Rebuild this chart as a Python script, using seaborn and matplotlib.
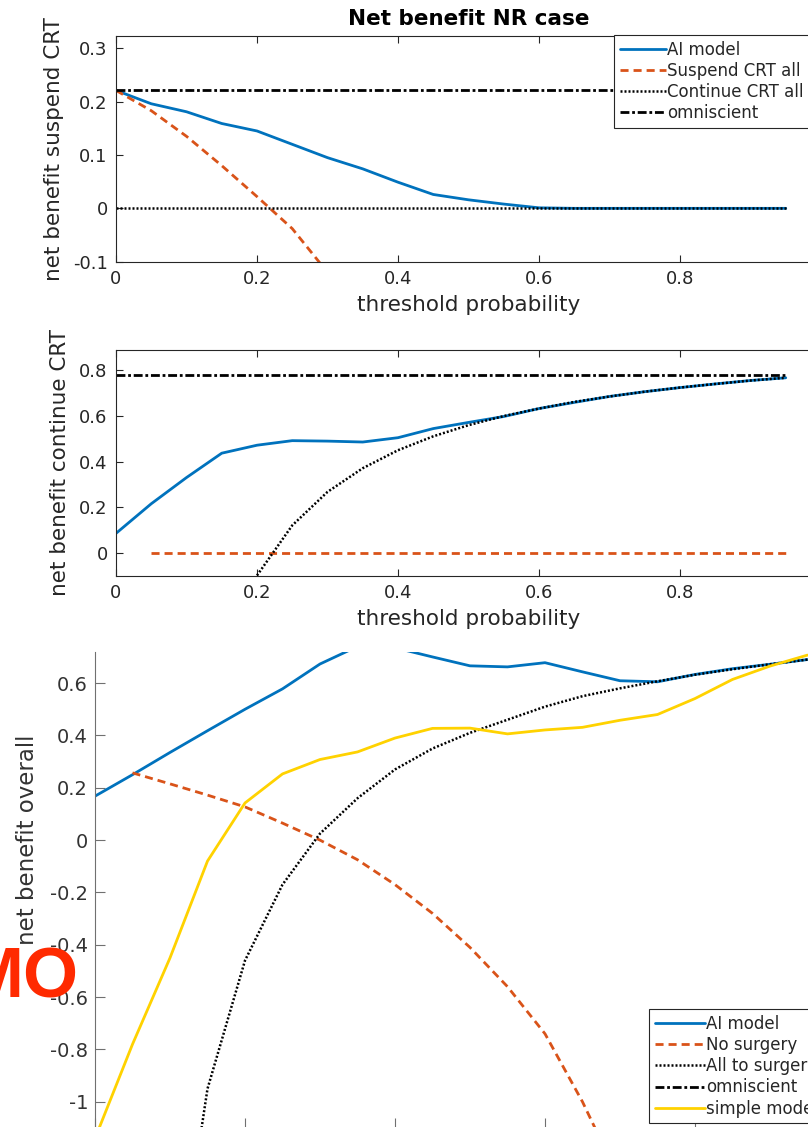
import matplotlib
matplotlib.use("Agg")
import matplotlib.pyplot as plt
import seaborn as sns
from matplotlib.ticker import FormatStrFormatter

# ---- data ----
thr = [0.0, 0.05, 0.1, 0.15, 0.2, 0.25, 0.3, 0.35, 0.4, 0.45,
       0.5, 0.55, 0.6, 0.65, 0.7, 0.75, 0.8, 0.85, 0.9, 0.95]

# panel 1: net benefit suspend CRT
suspend_ai = [0.221, 0.196, 0.181, 0.159, 0.145, 0.12, 0.095, 0.074, 0.049, 0.026,
              0.016, 0.008, 0.001, 0.0, 0.0, 0.0, 0.0, 0.0, 0.0, 0.0]
suspend_all_thr = [0.0, 0.05, 0.1, 0.15, 0.2, 0.25, 0.3, 0.35]
suspend_all = [0.221, 0.183, 0.135, 0.08, 0.022, -0.038, -0.12, -0.2]
suspend_continue = [0.0] * 20
suspend_omni = [0.221] * 20

# panel 2: net benefit continue CRT
continue_ai = [0.085, 0.215, 0.33, 0.437, 0.472, 0.492, 0.49, 0.486, 0.505, 0.545,
               0.572, 0.598, 0.633, 0.66, 0.686, 0.707, 0.725, 0.741, 0.756, 0.768]
continue_suspend_thr = thr[1:]
continue_suspend = [0.0] * 19
continue_all_thr = thr[4:]
continue_all = [-0.1, 0.12, 0.267, 0.371, 0.45, 0.511, 0.56, 0.6, 0.633, 0.662,
                0.686, 0.707, 0.725, 0.741, 0.756, 0.768]
continue_omni = [0.78] * 20

# panel 3: net benefit overall
overall_ai = [0.168, 0.25, 0.335, 0.418, 0.5, 0.578, 0.673, 0.74, 0.735, 0.70,
              0.666, 0.662, 0.678, 0.643, 0.609, 0.605, 0.633, 0.655, 0.672, 0.69]
no_surgery_thr = [0.05, 0.1, 0.15, 0.2, 0.25, 0.3, 0.35, 0.4, 0.45, 0.5,
                  0.55, 0.6, 0.65, 0.7]
no_surgery = [0.257, 0.215, 0.172, 0.127, 0.065, 0.0, -0.075, -0.17, -0.28, -0.41,
              -0.56, -0.74, -1.0, -1.3]
all_surgery_thr = thr[2:]
all_surgery = [-1.9, -0.95, -0.46, -0.17, 0.025, 0.16, 0.27, 0.35, 0.41, 0.46,
               0.51, 0.55, 0.58, 0.607, 0.632, 0.653, 0.672, 0.69]
overall_omni = [0.78] * 20
simple_model = [-1.14, -0.78, -0.45, -0.08, 0.142, 0.253, 0.308, 0.337, 0.39, 0.427,
                0.428, 0.406, 0.421, 0.431, 0.458, 0.48, 0.541, 0.614, 0.665, 0.707]

blue = "#0072BD"
orange = "#D95319"
gold = "#FFD200"
dark = "#262626"
dash = (0, (2.9, 1.8))
dashdot = (0, (3.2, 1.0, 1.0, 1.0))
dots = (0, (0.8, 0.8))

sns.set_theme(style="white")
plt.rcParams["font.family"] = ["DejaVu Sans"]
plt.rcParams["axes.unicode_minus"] = False

W, H = 808, 1127
fig = plt.figure(figsize=(W / 100, H / 100), dpi=100)


def box(left, top, right, bottom):
    return [left / W, 1 - bottom / H, (right - left) / W, (bottom - top) / H]


def style_axes(ax, col, size):
    for sp in ax.spines.values():
        sp.set_color(col)
        sp.set_linewidth(0.8)
    ax.tick_params(direction="in", length=5, width=0.8, colors=col,
                   labelcolor=dark, labelsize=size, pad=6,
                   top=True, right=True, bottom=True, left=True)
    ax.xaxis.set_major_formatter(FormatStrFormatter("%g"))
    ax.yaxis.set_major_formatter(FormatStrFormatter("%g"))


def leg(ax, x, y, hl=2.75):
    lg = ax.legend(loc="upper left", bbox_to_anchor=(x / W, 1 - y / H),
                   bbox_transform=fig.transFigure, fontsize=12, frameon=True,
                   fancybox=False, framealpha=1, edgecolor=dark,
                   borderpad=0.35, labelspacing=0.19, handlelength=hl,
                   handletextpad=0.08, borderaxespad=0)
    lg.get_frame().set_linewidth(0.8)


# ---- panel 1 ----
ax1 = fig.add_axes(box(116, 36, 821, 261.7))
sns.lineplot(x=thr, y=suspend_ai, ax=ax1, color=blue, lw=2, label="AI model")
sns.lineplot(x=suspend_all_thr, y=suspend_all, ax=ax1, color=orange, lw=2,
             linestyle=dash, label="Suspend CRT all")
sns.lineplot(x=thr, y=suspend_continue, ax=ax1, color="black", lw=1.8,
             linestyle=dots, label="Continue CRT all")
sns.lineplot(x=thr, y=suspend_omni, ax=ax1, color="black", lw=2,
             linestyle=dashdot, label="omniscient")
ax1.set_xlim(0, 1)
ax1.set_ylim(-0.1, 0.323)
ax1.set_xticks([0, 0.2, 0.4, 0.6, 0.8])
ax1.set_yticks([-0.1, 0, 0.1, 0.2, 0.3])
style_axes(ax1, dark, 13)
ax1.set_title("Net benefit NR case", fontsize=15.5, fontweight="bold", color="black", pad=8)
ax1.set_xlabel("threshold probability", fontsize=15.5, color=dark, labelpad=5)
ax1.set_ylabel("net benefit suspend CRT", fontsize=15.5, color=dark)
ax1.yaxis.set_label_coords(-0.074, 0.5)
leg(ax1, 614, 35)

# ---- panel 2 ----
ax2 = fig.add_axes(box(116, 350, 821, 575.5))
sns.lineplot(x=thr, y=continue_ai, ax=ax2, color=blue, lw=2)
sns.lineplot(x=continue_suspend_thr, y=continue_suspend, ax=ax2, color=orange,
             lw=2, linestyle=dash)
sns.lineplot(x=continue_all_thr, y=continue_all, ax=ax2, color="black", lw=1.8,
             linestyle=dots)
sns.lineplot(x=thr, y=continue_omni, ax=ax2, color="black", lw=2, linestyle=dashdot)
ax2.set_xlim(0, 1)
ax2.set_ylim(-0.1, 0.89)
ax2.set_xticks([0, 0.2, 0.4, 0.6, 0.8])
ax2.set_yticks([0, 0.2, 0.4, 0.6, 0.8])
style_axes(ax2, dark, 13)
ax2.set_xlabel("threshold probability", fontsize=15.5, color=dark, labelpad=5)
ax2.set_ylabel("net benefit continue CRT", fontsize=15.5, color=dark)
ax2.yaxis.set_label_coords(-0.065, 0.5)

# ---- panel 3 ----
ax3 = fig.add_axes(box(95, 651.7, 845, 1128))
sns.lineplot(x=thr, y=overall_ai, ax=ax3, color=blue, lw=2, label="AI model")
sns.lineplot(x=no_surgery_thr, y=no_surgery, ax=ax3, color=orange, lw=2,
             linestyle=dash, label="No surgery")
sns.lineplot(x=all_surgery_thr, y=all_surgery, ax=ax3, color="black", lw=1.8,
             linestyle=dots, label="All to surgery")
sns.lineplot(x=thr, y=overall_omni, ax=ax3, color="black", lw=2,
             linestyle=dashdot, label="omniscient")
sns.lineplot(x=thr, y=simple_model, ax=ax3, color=gold, lw=2, label="simple model")
ax3.set_xlim(0, 1)
ax3.set_ylim(-1.1, 0.72)
ax3.set_xticks([0, 0.2, 0.4, 0.6, 0.8])
ax3.set_yticks([-1, -0.8, -0.6, -0.4, -0.2, 0, 0.2, 0.4, 0.6])
style_axes(ax3, "#707070", 14)
ax3.tick_params(labelcolor="#333333", length=7, top=False, pad=5, labelbottom=False)
ax3.spines["top"].set_visible(False)
ax3.set_xlabel("")
ax3.set_ylabel("net benefit overall", fontsize=16.5, color="#333333")
ax3.yaxis.set_label_coords(-0.075, 0.605)
leg(ax3, 649, 1009, hl=3.0)

fig.text(78 / W, 1 - 997 / H, "MO", ha="right", va="baseline", color="#FF2A00",
         fontsize=51, fontweight="bold", family=["Liberation Sans", "DejaVu Sans"],
         zorder=10)

fig.savefig("out.png", dpi=100)
